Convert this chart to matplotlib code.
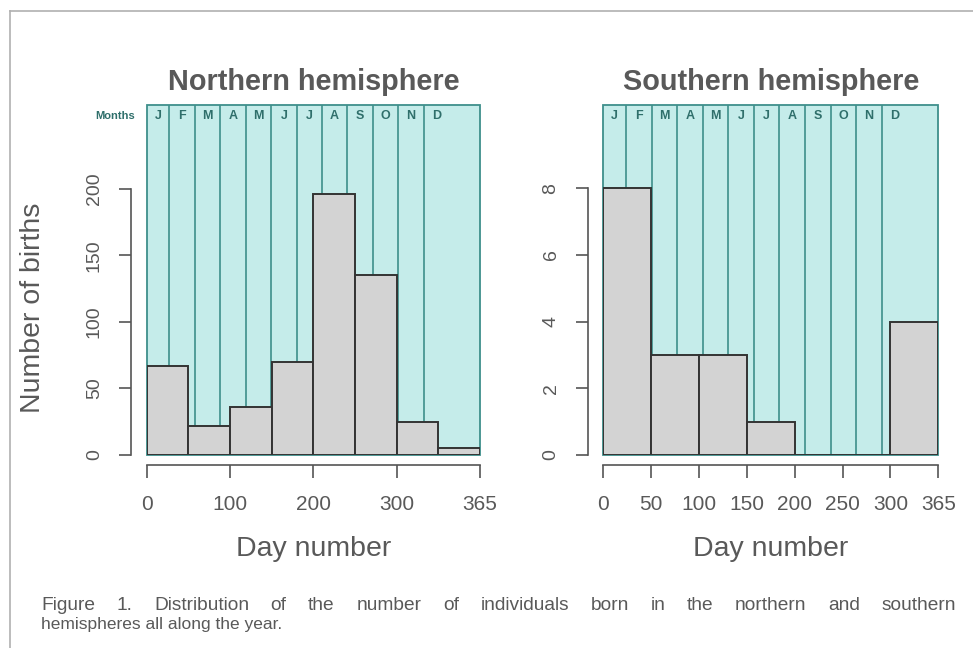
import matplotlib
matplotlib.use("Agg")
import matplotlib.pyplot as plt
from matplotlib.lines import Line2D
from matplotlib.patches import Rectangle

plt.rcParams['font.family'] = ['Liberation Sans', 'DejaVu Sans']

# ---- data ----
months = ["J", "F", "M", "A", "M", "J", "J", "A", "S", "O", "N", "D"]
north_edges = [0, 50, 100, 150, 200, 250, 300, 350, 400]
north_counts = [67, 22, 36, 70, 196, 135, 25, 5]
north_xticks = [0, 100, 200, 300, 400]
north_xlabels = ["0", "100", "200", "300", "365"]
north_yticks = [0, 50, 100, 150, 200]

south_edges = [0, 50, 100, 150, 200, 250, 300, 350]
south_counts = [8, 3, 3, 1, 0, 0, 4]
south_xticks = [0, 50, 100, 150, 200, 250, 300, 350]
south_xlabels = ["0", "50", "100", "150", "200", "250", "300", "365"]
south_yticks = [0, 2, 4, 6, 8]

titles = ["Northern hemisphere", "Southern hemisphere"]
caption_line1 = "Figure 1. Distribution of the number of individuals born in the northern and southern"
caption_line2 = "hemispheres all along the year."

TXT = "#595959"
TEAL = "#3e8f8b"
TEAL_TXT = "#2f6f6b"
CYAN = "#c5ecea"
BAR = "#d3d3d3"
AX = "#555555"

W, H = 973, 648
fig = plt.figure(figsize=(W / 100, H / 100), dpi=100)

def px(x0, y0, x1, y1):
    return [x0 / W, 1 - y1 / H, (x1 - x0) / W, (y1 - y0) / H]

# month boundary fractions (in axes fraction)
first, step = 0.068, 0.0763
bounds = [first + step * k for k in range(11)]
lab_pos = [first / 2] + [b + step / 2 for b in bounds]

def panel(rect, edges, counts, xticks, xlabels, yticks, ymax, title, show_months_label):
    ax = fig.add_axes(rect)
    xmax = edges[-1]
    ax.set_xlim(0, xmax)
    ax.set_ylim(0, ymax)
    ax.add_patch(Rectangle((0, 0), xmax, ymax, facecolor=CYAN, edgecolor=TEAL,
                           lw=1.3, zorder=1, clip_on=False))
    for b in bounds:
        ax.plot([b * xmax, b * xmax], [0, ymax], color=TEAL, lw=1.2, zorder=2)
    for m, p in zip(months, lab_pos):
        ax.text(p * xmax, ymax * 0.969, m, ha="center", va="center",
                fontsize=9, fontweight="bold", color=TEAL_TXT, zorder=3)
    widths = [edges[i + 1] - edges[i] for i in range(len(counts))]
    ax.bar(edges[:-1], counts, width=widths, align="edge", color=BAR,
           edgecolor="#333333", lw=1.4, zorder=4)
    for s in ["top", "right"]:
        ax.spines[s].set_visible(False)
    ax.spines["left"].set_position(("outward", 11))
    ax.spines["bottom"].set_position(("outward", 7.5))
    ax.spines["left"].set_bounds(yticks[0], yticks[-1])
    ax.spines["bottom"].set_bounds(xticks[0], xticks[-1])
    for s in ["left", "bottom"]:
        ax.spines[s].set_color(AX)
        ax.spines[s].set_linewidth(1.2)
    ax.set_xticks(xticks)
    ax.set_xticklabels(xlabels)
    ax.set_yticks(yticks)
    ax.set_yticklabels([str(v) for v in yticks], rotation=90, va="center")
    ax.tick_params(axis="x", length=9, width=1.2, color=AX, labelsize=15,
                   labelcolor=TXT, pad=12)
    ax.tick_params(axis="y", length=8.5, width=1.2, color=AX, labelsize=14,
                   labelcolor=TXT, pad=12)
    ax.set_xlabel("Day number", fontsize=20.5, color=TXT, labelpad=16)
    ax.set_title(title, fontsize=20.8, fontweight="bold", color=TXT, pad=11)
    if show_months_label:
        ax.text(-0.035, 0.969, "Months", transform=ax.transAxes, ha="right",
                va="center", fontsize=8, fontweight="bold", color=TEAL_TXT)
    return ax

axL = panel(px(146.7, 105, 480, 455), north_edges, north_counts, north_xticks,
            north_xlabels, north_yticks, 263, titles[0], True)
axR = panel(px(603.3, 105, 938.3, 455), south_edges, south_counts, south_xticks,
            south_xlabels, south_yticks, 10.5, titles[1], False)

fig.text(33 / W, 1 - 308 / H, "Number of births", rotation=90, ha="center",
         va="center", fontsize=20.5, color=TXT)

# border lines
fig.add_artist(Line2D([10 / W, 1.0], [1 - 11 / H, 1 - 11 / H], color="#b0b0b0", lw=1.2))
fig.add_artist(Line2D([10 / W, 10 / W], [0, 1 - 11 / H], color="#b0b0b0", lw=1.2))

# justified caption line 1
renderer = fig.canvas.get_renderer()
words = caption_line1.split(" ")
x_left, x_right, y1 = 41, 956, 605
texts = [fig.text(0, 1 - y1 / H, w, fontsize=13.8, color=TXT,
                  va="center", ha="left") for w in words]
wids = [t.get_window_extent(renderer).width for t in texts]
gap = (x_right - x_left - sum(wids)) / (len(words) - 1)
x = x_left
for t, w in zip(texts, wids):
    t.set_x(x / W)
    x += w + gap
fig.text(x_left / W, 1 - 624 / H, caption_line2, fontsize=12.5,
         color=TXT, va="center", ha="left")

fig.savefig("out.png", dpi=100)
